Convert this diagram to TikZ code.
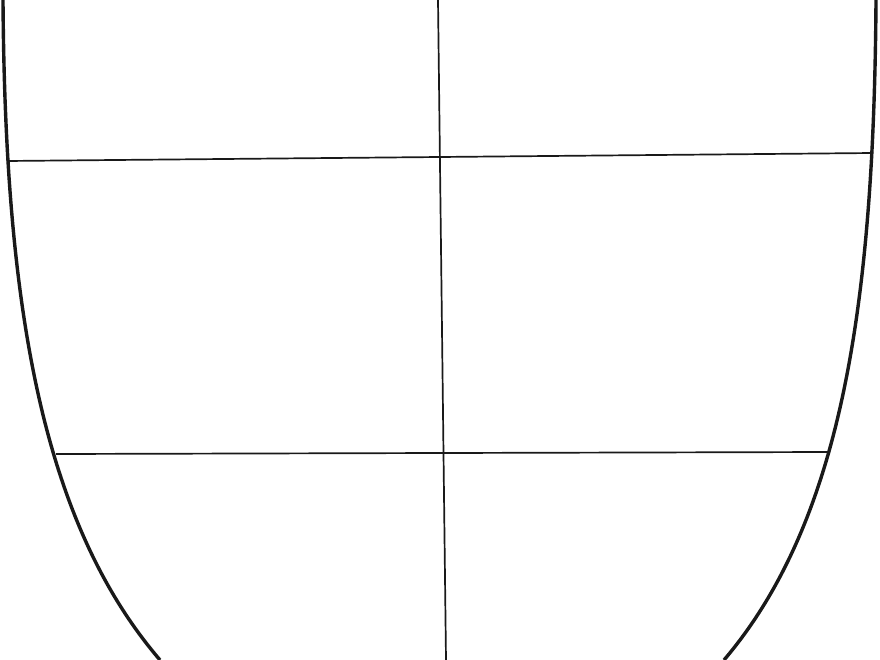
\documentclass[tikz,border=0pt]{standalone}
\usepackage{tikz}
\usepackage{xcolor}
\begin{document}
\begin{tikzpicture}[x=1pt,y=-1pt,outline/.style={line width=3.4pt,black!90},bar/.style={line width=1.7pt,black!90}]
\useasboundingbox (0,0) rectangle (880,660);
\definecolor{paper}{HTML}{FFFFFF}
\fill[paper] (0,0) rectangle (880,660);
% shield outline
\draw[outline] (3,0) .. controls (5,300) and (40,520) .. (160,660);
\draw[outline] (876,0) .. controls (874,300) and (843,520) .. (724,660);
% ends of the cross
\coordinate (topmid) at (438,0);
\coordinate (botmid) at (446,660);
\coordinate (upleft) at (7,161);
\coordinate (upright) at (873,153);
\coordinate (lowleft) at (56,454);
\coordinate (lowright) at (830,452);
\draw[bar] (topmid) -- (botmid);
\draw[bar] (upleft) -- (upright);
\draw[bar] (lowleft) -- (lowright);
\end{tikzpicture}
\end{document}
